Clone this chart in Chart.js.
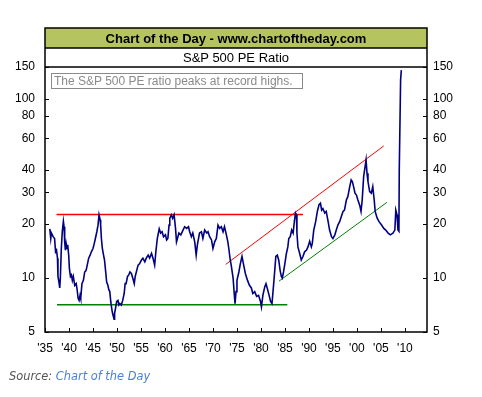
<!DOCTYPE html>
<html>
<head>
<meta charset="utf-8">
<script src="https://cdn.jsdelivr.net/npm/chart.js@4/dist/chart.umd.min.js"></script>
<style>
  body { margin: 0; background: #fff; }
  #wrap { position: relative; width: 482px; height: 397px; overflow: hidden; }
  #chart { position: absolute; left: 0; top: 0; }
  .txt { position: absolute; font-family: "Liberation Sans", Arial, sans-serif; white-space: nowrap; }
  #title { left: 45px; top: 29px; width: 382px; height: 19px; line-height: 19px; text-align: center; font-weight: bold; font-size: 13px; color: #000; }
  #subtitle { left: 45px; top: 48px; width: 382px; height: 19px; line-height: 19px; text-align: center; font-size: 13px; color: #000; }
  #note { left: 51px; top: 73px; width: 248px; height: 14px; line-height: 14px; border: 1px solid #8a8a8a; font-size: 12px; color: #8a8a8a; padding-left: 2px; }
  #source { left: 9px; top: 369px; font-family: "DejaVu Sans", Verdana, sans-serif; font-style: italic; font-size: 11.4px; color: #555; }
  #source span { color: #4a7fd8; }
</style>
</head>
<body>
<div id="wrap">
  <canvas id="chart" width="482" height="397"></canvas>
  <div class="txt" id="title">Chart of the Day - www.chartoftheday.com</div>
  <div class="txt" id="subtitle">S&amp;P 500 PE Ratio</div>
  <div class="txt" id="note">The S&amp;P 500 PE ratio peaks at record highs.</div>
  <div class="txt" id="source">Source: <span>Chart of the Day</span></div>
</div>
<script>
// S&P 500 PE ratio (decimal years)
var years = [
  1936.0, 1936.2, 1936.33, 1936.7, 1937.0, 1937.2, 1937.4, 1937.6, 1937.7, 1937.9, 1938.07, 1938.2, 1938.4, 1938.6, 1938.83, 1938.97, 1939.1, 1939.25, 1939.4, 1939.6,
  1939.73, 1939.94, 1940.08, 1940.3, 1940.5, 1940.7, 1940.9, 1941.2, 1941.5, 1941.7, 1941.9, 1942.1, 1942.3, 1942.44, 1942.7, 1943.0, 1943.27, 1943.55, 1943.8, 1944.1,
  1944.4, 1944.66, 1945.0, 1945.2, 1945.5, 1945.8, 1946.05, 1946.26, 1946.5, 1946.6, 1946.75, 1946.95, 1947.2, 1947.4, 1947.65, 1947.85, 1948.1, 1948.3, 1948.5, 1948.7,
  1948.8, 1949.0, 1949.25, 1949.4, 1949.5, 1949.7, 1949.94, 1950.2, 1950.4, 1950.6, 1950.9, 1951.2, 1951.5, 1951.7, 1951.9, 1952.2, 1952.45, 1952.7, 1953.0, 1953.3,
  1953.6, 1953.8, 1954.1, 1954.4, 1954.7, 1955.1, 1955.4, 1955.8, 1956.1, 1956.5, 1956.8, 1957.2, 1957.5, 1957.85, 1958.1, 1958.4, 1958.8, 1959.1, 1959.4, 1959.7,
  1960.1, 1960.35, 1960.6, 1960.85, 1961.0, 1961.33, 1961.6, 1961.9, 1962.2, 1962.4, 1962.6, 1962.9, 1963.3, 1963.76, 1964.1, 1964.5, 1964.9, 1965.15, 1965.5, 1965.8,
  1966.2, 1966.5, 1966.75, 1967.2, 1967.6, 1967.9, 1968.27, 1968.7, 1968.97, 1969.3, 1969.7, 1970.0, 1970.36, 1970.7, 1971.05, 1971.4, 1971.75, 1972.1, 1972.4, 1972.8,
  1973.1, 1973.3, 1973.6, 1973.8, 1974.2, 1974.4, 1974.6, 1974.8, 1975.0, 1975.4, 1975.7, 1976.05, 1976.4, 1976.75, 1977.2, 1977.6, 1978.0, 1978.3, 1978.7, 1979.1,
  1979.5, 1979.9, 1980.1, 1980.4, 1980.8, 1981.05, 1981.3, 1981.7, 1982.0, 1982.3, 1982.6, 1982.85, 1983.1, 1983.4, 1983.7, 1984.0, 1984.25, 1984.45, 1984.7, 1985.0,
  1985.3, 1985.6, 1985.8, 1986.1, 1986.4, 1986.7, 1986.96, 1987.2, 1987.4, 1987.5, 1987.7, 1988.07, 1988.4, 1988.76, 1989.1, 1989.5, 1989.8, 1990.15, 1990.5, 1990.7,
  1991.0, 1991.4, 1991.75, 1992.1, 1992.4, 1992.65, 1992.9, 1993.3, 1993.6, 1994.0, 1994.3, 1994.7, 1995.0, 1995.4, 1995.7, 1996.05, 1996.4, 1996.75, 1997.1, 1997.4,
  1997.8, 1998.1, 1998.5, 1998.8, 1999.04, 1999.3, 1999.6, 1999.9, 2000.2, 2000.6, 2000.85, 2001.1, 2001.4, 2001.7, 2001.9, 2002.1, 2002.3, 2002.65, 2003.0, 2003.3,
  2003.6, 2003.8, 2004.2, 2004.6, 2005.1, 2005.6, 2006.0, 2006.5, 2006.95, 2007.5, 2007.9, 2008.1, 2008.35, 2008.55, 2008.75, 2008.82, 2009.1, 2009.25]
var pe = [
  18.8, 16.6, 17.8, 17.0, 16.6, 14.0, 14.3, 12.9, 10.2, 9.5, 8.8, 10.0, 14.6, 18.1, 20.7, 19.3, 15.9, 14.3, 15.6, 14.6,
  15.3, 13.4, 11.3, 10.2, 10.4, 9.7, 10.2, 9.1, 9.3, 8.6, 7.7, 7.5, 8.0, 7.7, 9.3, 9.7, 10.8, 11.0, 11.8, 12.9,
  13.4, 14.0, 14.6, 15.3, 16.6, 18.1, 19.7, 22.5, 21.1, 19.7, 16.6, 14.6, 13.4, 12.6, 10.8, 9.5, 9.1, 8.6, 8.4, 7.4,
  7.07, 6.5, 6.1, 5.9, 6.35, 6.8, 7.4, 7.5, 7.07, 7.2, 7.07, 7.5, 8.2, 9.3, 9.3, 10.2, 10.4, 10.8, 10.6, 9.96,
  9.3, 10.2, 11.0, 11.8, 12.0, 12.6, 12.9, 12.3, 12.9, 13.4, 12.9, 13.7, 12.9, 11.8, 14.0, 16.6, 18.8, 17.8, 18.1, 17.0,
  17.4, 16.3, 16.6, 19.7, 21.5, 22.5, 21.5, 22.5, 18.9, 15.9, 16.6, 17.8, 17.4, 18.5, 19.3, 18.9, 19.3, 18.1, 17.0, 17.8,
  15.9, 13.4, 15.3, 17.8, 18.1, 16.6, 18.5, 17.8, 18.1, 17.0, 16.3, 14.6, 15.9, 16.6, 19.7, 18.9, 19.3, 18.1, 19.3, 17.4,
  15.9, 14.6, 12.6, 11.8, 9.96, 8.4, 7.2, 8.4, 9.7, 10.8, 12.0, 13.2, 11.8, 10.6, 9.7, 9.1, 8.8, 8.2, 8.4, 7.9,
  8.0, 7.4, 6.9, 8.0, 8.95, 9.3, 8.8, 8.0, 7.4, 7.2, 8.95, 10.8, 13.2, 13.4, 12.6, 11.0, 10.2, 10.0, 10.8, 12.1,
  13.7, 14.9, 16.6, 17.0, 18.5, 17.8, 20.6, 23.0, 22.5, 17.8, 14.9, 13.7, 12.6, 13.2, 14.0, 14.3, 14.9, 16.0, 14.9, 15.6,
  18.5, 20.6, 23.5, 25.6, 26.1, 23.9, 24.4, 23.0, 23.5, 20.6, 18.5, 17.0, 16.6, 17.4, 18.5, 19.8, 20.6, 22.0, 23.5, 23.9,
  27.2, 28.4, 32.3, 35.2, 34.5, 32.3, 29.7, 29.0, 27.2, 25.3, 23.5, 27.2, 36.8, 41.8, 45.5, 38.3, 34.5, 30.3, 29.7, 32.3,
  27.2, 23.5, 21.6, 20.6, 19.8, 18.9, 18.5, 17.8, 17.4, 17.8, 18.5, 23.9, 22.5, 18.5, 18.2, 40.0, 127, 144]

// trend / range lines drawn on the chart: [x0, x1] and [y0, y1]
var redTopX = [1937.4, 1988.75], redTopY = [22.6, 22.6]
var greenLowX = [1937.5, 1985.5], greenLowY = [7.1, 7.1]
var redDiagX = [1972.65, 2005.6], redDiagY = [11.9, 54.5]
var greenDiagX = [1983.75, 2006.25], greenDiagY = [9.6, 26.4]

var yTicks = [5, 10, 20, 30, 40, 60, 80, 100, 150]
var xTicks = [1935, 1940, 1945, 1950, 1955, 1960, 1965, 1970, 1975, 1980, 1985, 1990, 1995, 2000, 2005, 2010]
var xMin = 1935, xMax = 2014.6

const pts = (xs, ys) => xs.map((x, i) => ({x: x, y: ys[i]}))

const frame = {
  id: 'frame',
  beforeDraw(chart) {
    const c = chart.ctx, a = chart.chartArea
    c.save()
    c.fillStyle = '#b5c45f'
    c.fillRect(a.left, 28, a.right - a.left, 20)
    c.restore()
  },
  afterDraw(chart) {
    const c = chart.ctx, a = chart.chartArea
    c.save()
    c.strokeStyle = '#000'
    c.lineWidth = 1.5
    c.strokeRect(a.left, 28, a.right - a.left, a.bottom - 28)
    c.beginPath()
    c.moveTo(a.left, 48); c.lineTo(a.right, 48)
    c.moveTo(a.left, a.top); c.lineTo(a.right, a.top)
    c.stroke()
    // inward tick marks
    c.lineWidth = 1
    c.beginPath()
    chart.scales.x.ticks.forEach(t => {
      const px = Math.round(chart.scales.x.getPixelForValue(t.value)) + 0.5
      c.moveTo(px, a.bottom); c.lineTo(px, a.bottom - 4)
    })
    chart.scales.y.ticks.forEach(t => {
      const py = Math.round(chart.scales.y.getPixelForValue(t.value)) + 0.5
      c.moveTo(a.left, py); c.lineTo(a.left + 4, py)
    })
    chart.scales.y2.ticks.forEach(t => {
      const py = Math.round(chart.scales.y2.getPixelForValue(t.value)) + 0.5
      c.moveTo(a.right, py); c.lineTo(a.right - 4, py)
    })
    c.stroke()
    c.restore()
  }
}

const tickFont = {family: '"Liberation Sans", Arial, sans-serif', size: 12}

const yAxis = (pos, w, pad) => ({
  type: 'logarithmic',
  position: pos,
  min: 5,
  max: 150,
  afterBuildTicks: s => { s.ticks = yTicks.map(v => ({value: v})) },
  afterFit: s => { s.width = w },
  grid: {display: false, drawTicks: false},
  border: {display: false},
  ticks: {color: '#000', font: tickFont, padding: pad, callback: v => String(v)}
})

new Chart(document.getElementById('chart'), {
  type: 'line',
  data: {
    datasets: [
      {data: pts(years, pe), borderColor: '#000080', borderWidth: 1.6, pointRadius: 0, yAxisID: 'y'},
      {data: pts(redTopX, redTopY), borderColor: '#ff0000', borderWidth: 1.6, pointRadius: 0, yAxisID: 'y'},
      {data: pts(greenLowX, greenLowY), borderColor: '#008000', borderWidth: 1.6, pointRadius: 0, yAxisID: 'y'},
      {data: pts(redDiagX, redDiagY), borderColor: '#ff0000', borderWidth: 1, pointRadius: 0, yAxisID: 'y'},
      {data: pts(greenDiagX, greenDiagY), borderColor: '#008000', borderWidth: 1, pointRadius: 0, yAxisID: 'y'}
    ]
  },
  options: {
    responsive: false,
    devicePixelRatio: 1,
    animation: false,
    layout: {padding: {top: 67, left: 0, right: 0, bottom: 0}},
    plugins: {legend: {display: false}, tooltip: {enabled: false}},
    scales: {
      x: {
        type: 'linear',
        min: xMin,
        max: xMax,
        afterBuildTicks: s => { s.ticks = xTicks.map(v => ({value: v})) },
        afterFit: s => { s.height = 65 },
        grid: {display: false, drawTicks: false},
        border: {display: false},
        ticks: {color: '#000', font: tickFont, padding: 9, maxRotation: 0, autoSkip: false,
          callback: v => "'" + String(v).slice(2)}
      },
      y: yAxis('left', 45, 10),
      y2: yAxis('right', 55, 6)
    }
  },
  plugins: [frame]
})
</script>
</body>
</html>
